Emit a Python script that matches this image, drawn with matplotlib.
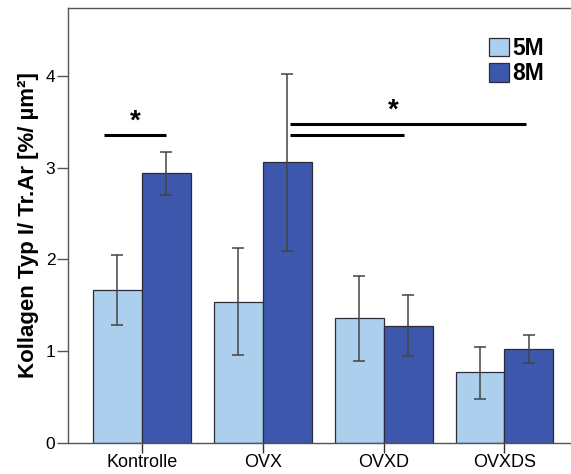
import numpy as np
from matplotlib import pyplot as plt

plt.rcParams['font.family'] = ['Liberation Sans', 'DejaVu Sans']

groups = ['Kontrolle', 'OVX', 'OVXD', 'OVXDS']
series = ['5M', '8M']
mean_5m = [1.67, 1.54, 1.36, 0.77]
low_5m = [1.29, 0.96, 0.89, 0.48]
high_5m = [2.05, 2.12, 1.82, 1.05]
mean_8m = [2.94, 3.06, 1.28, 1.02]
low_8m = [2.70, 2.09, 0.95, 0.87]
high_8m = [3.17, 4.02, 1.61, 1.18]

# significance bars: (x start, x end, height)
sig_lines = [(-0.31, 0.20, 3.36), (1.23, 2.17, 3.36), (1.23, 3.18, 3.48)]
stars = [(-0.05, 3.36), (2.08, 3.48)]

colors = ['#abcfec', '#3d57ac']
width = 0.405

fig = plt.figure(figsize=(5.71, 4.74), dpi=100)
ax = fig.add_axes([0.119, 0.0654, 0.881, 0.9176])

x = np.arange(len(groups))
for i, (mean, lo, hi) in enumerate([(mean_5m, low_5m, high_5m), (mean_8m, low_8m, high_8m)]):
    pos = x + (i - 0.5) * width
    mean = np.array(mean)
    err = [mean - np.array(lo), np.array(hi) - mean]
    ax.bar(pos, mean, width, color=colors[i], edgecolor='#2b2b3a', linewidth=0.9,
           label=series[i], zorder=2)
    ax.errorbar(pos, mean, yerr=err, fmt='none', ecolor='#444444', elinewidth=1.1,
                capsize=4.5, capthick=1.1, zorder=3)

for x0, x1, y in sig_lines:
    ax.plot([x0, x1], [y, y], color='black', lw=2.2, solid_capstyle='butt', zorder=4)
for sx, sy in stars:
    ax.text(sx, sy, '*', ha='center', va='bottom', fontsize=20, fontweight='bold')

ax.set_xlim(-0.61, 3.55)
ax.set_ylim(0, 4.74)
ax.set_xticks(x)
ax.set_xticklabels(groups, fontsize=13)
ax.set_yticks([0, 1, 2, 3, 4])
ax.set_yticklabels(['0', '1', '2', '3', '4'], fontsize=12.5)
ax.tick_params(axis='y', length=8, width=1, color='#555555', pad=1)
ax.tick_params(axis='x', length=7, width=1, color='#333333', pad=1)
ax.set_ylabel('Kollagen Typ I/ Tr.Ar [%/ µm²]', fontsize=16, fontweight='bold', labelpad=5)

for s in ['left', 'bottom', 'top']:
    ax.spines[s].set_color('#555555')
    ax.spines[s].set_linewidth(1)
ax.spines['right'].set_visible(False)

ax.legend(loc='upper right', bbox_to_anchor=(0.979, 0.971), frameon=False,
          prop={'size': 16.5, 'weight': 'bold'}, handlelength=0.87, handleheight=0.85,
          handletextpad=0.15, labelspacing=0.12, borderpad=0.2)

fig.savefig('out.png', dpi=100)
